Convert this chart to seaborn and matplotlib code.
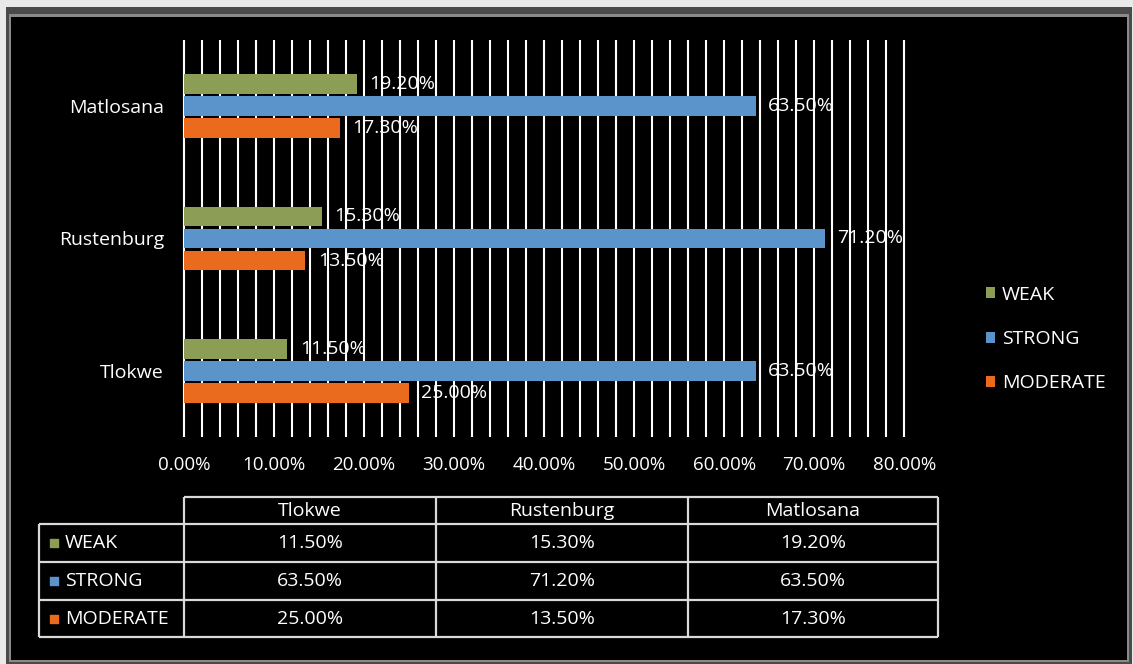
import matplotlib
matplotlib.use("Agg")
import matplotlib.pyplot as plt
from matplotlib.patches import Rectangle
from matplotlib.ticker import MultipleLocator
import pandas as pd
import seaborn as sns

# Share of respondents per association strength, by municipality
districts = ["Tlokwe", "Rustenburg", "Matlosana"]
levels = ["WEAK", "STRONG", "MODERATE"]
weak = [11.5, 15.3, 19.2]
strong = [63.5, 71.2, 63.5]
moderate = [25.0, 13.5, 17.3]
x_ticks = [0, 10, 20, 30, 40, 50, 60, 70, 80]

palette = {"WEAK": "#8c9e55", "STRONG": "#5b93cb", "MODERATE": "#eb6b1e"}
series = {"WEAK": weak, "STRONG": strong, "MODERATE": moderate}

df = pd.DataFrame({
    "district": districts * 3,
    "level": [lv for lv in levels for _ in districts],
    "share": weak + strong + moderate,
})

sns.set_theme(style="dark")
plt.rcParams["font.family"] = ["Open Sans", "DejaVu Sans"]

W, H = 1133, 664
fig = plt.figure(figsize=(W / 100, H / 100), dpi=100, facecolor="#e9e9e9")


def fx(px):
    return px / W


def fy(py):
    return 1 - py / H


def frame(x0, y0, x1, y1, color, z):
    fig.patches.append(Rectangle((fx(x0), fy(y1)), fx(x1) - fx(x0), fy(y0) - fy(y1),
                                 transform=fig.transFigure, facecolor=color,
                                 edgecolor="none", zorder=z))


# dark outer frame and black chart area
frame(6, 7, 1132, 664, "#4a4a4a", -3)
frame(9, 14, 1129, 662, "#8a8a8a", -2)
frame(11, 17, 1127, 660, "#000000", -1)

# ---- bar chart ----
ax = fig.add_axes([fx(182), fy(437), fx(906) - fx(182), (437 - 40) / H])
ax.set_facecolor("none")
sns.barplot(data=df, x="share", y="district", hue="level", order=districts[::-1],
            hue_order=levels, palette=palette, orient="h", width=0.5, gap=0.1,
            saturation=1, linewidth=0, ax=ax)

ax.set_xlim(-0.2, 80.2)
ax.set_xticks(x_ticks)
ax.set_xticklabels([f"{t:.2f}%" for t in x_ticks])
ax.xaxis.set_minor_locator(MultipleLocator(2))
ax.grid(True, axis="x", which="both", color="white", linewidth=1.5)
ax.grid(False, axis="y")
ax.set_axisbelow(True)
for s in ax.spines.values():
    s.set_visible(False)
ax.set_xlabel("")
ax.set_ylabel("")
ax.tick_params(axis="x", which="both", length=0, pad=14, labelcolor="white", labelsize=13.5)
ax.tick_params(axis="y", length=0, pad=13, labelcolor="white", labelsize=14)

for cont in ax.containers:
    ax.bar_label(cont, labels=[f"{v:.2f}%" for v in cont.datavalues], padding=9,
                 color="white", fontsize=14)

handles, labels = ax.get_legend_handles_labels()
ax.legend_.remove()
fig.legend(handles, labels, loc="center left", bbox_to_anchor=(fx(968), fy(339)),
           frameon=False, labelcolor="white", fontsize=14, handlelength=0.5,
           handleheight=0.5, handletextpad=0.35, labelspacing=1.35)

# ---- data table ----
tax = fig.add_axes([fx(30), fy(645), fx(945) - fx(30), (645 - 490) / H])
tax.set_xlim(30, 945)
tax.set_ylim(645, 490)
tax.axis("off")

col_edges = [184, 436, 688, 938]
row_edges = [497, 524, 562, 600, 637]
label_left = 39
line_kw = dict(color="#d9d9d9", linewidth=1.6)

tax.hlines(row_edges[0], col_edges[0], col_edges[-1], **line_kw)
tax.hlines(row_edges[1:], label_left, col_edges[-1], **line_kw)
tax.vlines(label_left, row_edges[1], row_edges[-1], **line_kw)
tax.vlines(col_edges, row_edges[0], row_edges[-1], **line_kw)

for j, name in enumerate(districts):
    xc = (col_edges[j] + col_edges[j + 1]) / 2
    tax.text(xc, (row_edges[0] + row_edges[1]) / 2, name, ha="center", va="center",
             color="white", fontsize=14)

for i, lv in enumerate(levels):
    yc = (row_edges[i + 1] + row_edges[i + 2]) / 2
    tax.scatter([54], [yc], marker="s", s=40, color=palette[lv])
    tax.text(65, yc, lv, ha="left", va="center", color="white", fontsize=14)
    for j, v in enumerate(series[lv]):
        xc = (col_edges[j] + col_edges[j + 1]) / 2
        tax.text(xc, yc, f"{v:.2f}%", ha="center", va="center", color="white", fontsize=14)

fig.savefig("out.png", dpi=100, facecolor=fig.get_facecolor())
